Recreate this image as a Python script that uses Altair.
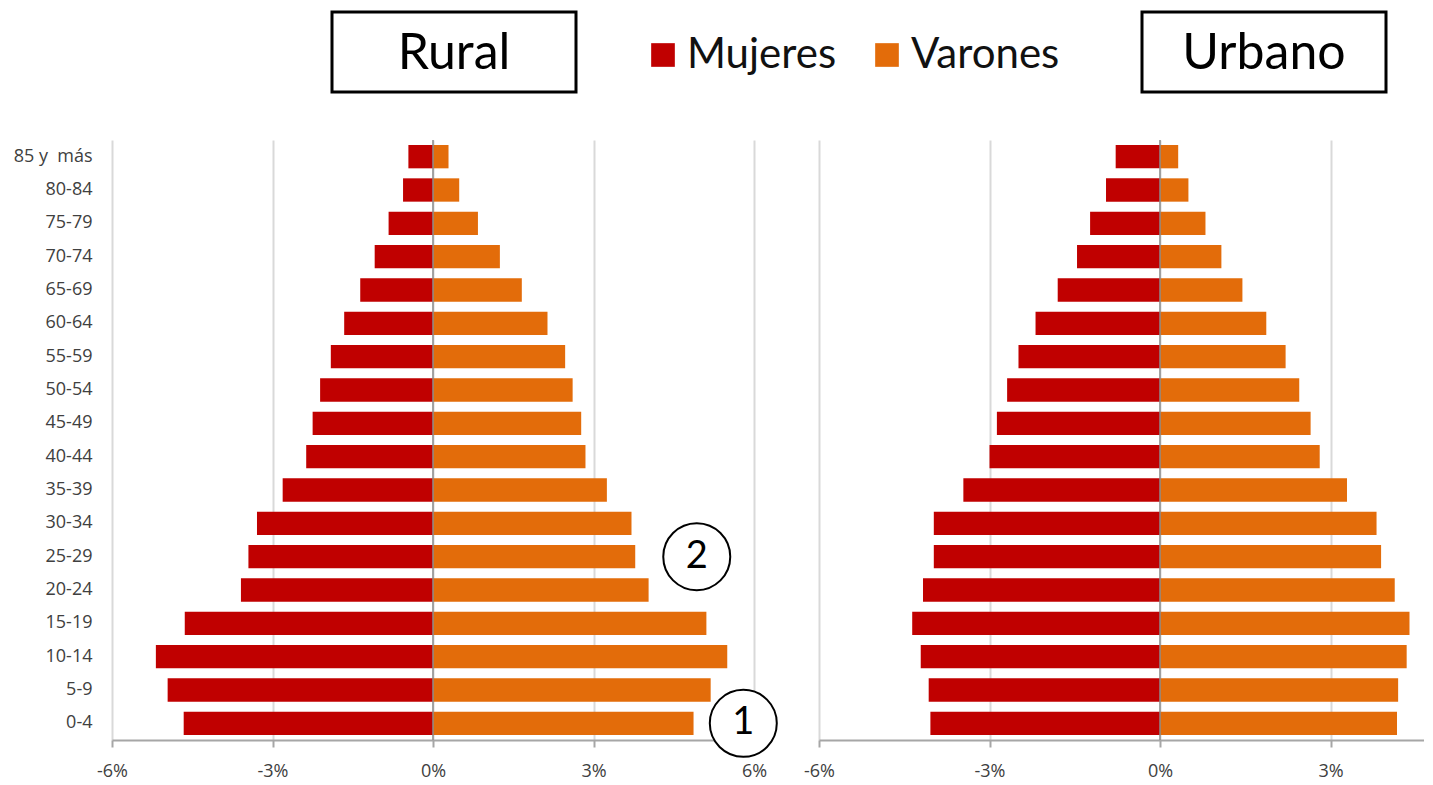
import altair as alt
import pandas as pd

# ---- data (percent of population) ----
ages = ["0-4", "5-9", "10-14", "15-19", "20-24", "25-29", "30-34", "35-39",
        "40-44", "45-49", "50-54", "55-59", "60-64", "65-69", "70-74",
        "75-79", "80-84", "85 y\u00a0 más"]
rural_mujeres = [4.66, 4.96, 5.18, 4.64, 3.59, 3.45, 3.29, 2.81, 2.37, 2.25,
                 2.11, 1.91, 1.66, 1.36, 1.09, 0.83, 0.56, 0.46]
rural_varones = [4.87, 5.19, 5.50, 5.11, 4.03, 3.78, 3.71, 3.25, 2.85, 2.77,
                 2.61, 2.47, 2.14, 1.66, 1.25, 0.84, 0.49, 0.29]
urbano_mujeres = [4.04, 4.07, 4.21, 4.36, 4.17, 3.98, 3.98, 3.46, 3.00, 2.87,
                  2.69, 2.49, 2.19, 1.80, 1.46, 1.23, 0.95, 0.78]
urbano_varones = [4.17, 4.19, 4.34, 4.39, 4.13, 3.89, 3.81, 3.29, 2.81, 2.65,
                  2.45, 2.21, 1.87, 1.45, 1.08, 0.80, 0.50, 0.32]
sexos = ["Mujeres", "Varones"]
colores = ["#C00000", "#E36C0A"]
x_ticks_rural = [-6, -3, 0, 3, 6]
x_ticks_urbano = [-6, -3, 0, 3]
annot_labels = ["1", "2"]
annot_edad = ["0-4", "25-29"]
annot_x = [5.8, 4.93]


def make_df(muj, var):
    rows = []
    for a, m, v in zip(ages, muj, var):
        rows.append({"edad": a, "sexo": "Mujeres", "valor": -m})
        rows.append({"edad": a, "sexo": "Varones", "valor": v})
    return pd.DataFrame(rows)


df_rural = make_df(rural_mujeres, rural_varones)
df_urbano = make_df(urbano_mujeres, urbano_varones)
df_annot = pd.DataFrame({"edad": annot_edad, "x": annot_x, "label": annot_labels})

y_order = list(reversed(ages))
y_scale = alt.Scale(domain=y_order, paddingInner=0.3, paddingOuter=0.15)

color_enc = alt.Color(
    "sexo:N",
    scale=alt.Scale(domain=sexos, range=colores),
    legend=alt.Legend(
        orient="none", legendX=530, legendY=-106, direction="horizontal",
        title=None, symbolType="square", symbolSize=560, symbolStrokeWidth=0,
        labelFontSize=42, labelFont="Lato", labelColor="#111111",
        labelOffset=3, columnPadding=29, symbolOpacity=1,
    ),
)


def x_axis(vals):
    return alt.Axis(
        values=vals, labelExpr="datum.value + '%'", grid=True,
        gridColor="#d9d9d9", gridWidth=2, domainColor="#a6a6a6",
        domainWidth=2, tickColor="#a6a6a6", tickWidth=2, tickSize=7,
        labelFontSize=18, labelColor="#404040", labelFont="Open Sans",
        labelPadding=15, title=None, labelFlush=False,
    )


def panel(df, domain, ticks, width, show_y, box_x, box_text, annot=False):
    xs = alt.Scale(domain=domain, nice=False, zero=False)
    if show_y:
        yax = alt.Axis(title=None, ticks=False, domain=False, grid=False,
                       labelFontSize=18, labelPadding=20, labelColor="#404040",
                       labelFont="Open Sans")
    else:
        yax = None
    bars = alt.Chart(df).mark_bar().encode(
        x=alt.X("valor:Q", scale=xs, axis=x_axis(ticks)),
        y=alt.Y("edad:N", scale=y_scale, sort=y_order, axis=yax),
        color=color_enc,
    )
    zero = alt.Chart(pd.DataFrame({"valor": [0]})).mark_rule(
        color="#8c8c8c", strokeWidth=1.5
    ).encode(x="valor:Q")
    box = alt.Chart(pd.DataFrame({"t": [box_text]})).mark_rect(
        fill="white", stroke="black", strokeWidth=3
    ).encode(
        x=alt.value(box_x), x2=alt.value(box_x + 244),
        y=alt.value(-128), y2=alt.value(-48),
    )
    box_label = alt.Chart(pd.DataFrame({"t": [box_text]})).mark_text(
        font="Lato", fontSize=50, color="black", baseline="middle"
    ).encode(text="t:N", x=alt.value(box_x + 122), y=alt.value(-86))
    layers = [bars, zero, box, box_label]
    if annot:
        circles = alt.Chart(df_annot).mark_point(
            shape="circle", size=4489, filled=True, fill="white",
            stroke="black", strokeWidth=2, opacity=1
        ).encode(x="x:Q", y=alt.Y("edad:N", sort=y_order))
        nums = alt.Chart(df_annot).mark_text(
            font="Lato", fontSize=38, color="black", baseline="middle"
        ).encode(x="x:Q", y=alt.Y("edad:N", sort=y_order), text="label:N")
        layers += [circles, nums]
    return alt.layer(*layers).properties(width=width, height=600)


left = panel(df_rural, [-6, 6], x_ticks_rural, 642, True, 220, "Rural", annot=True)
right = panel(df_urbano, [-6, 4.645], x_ticks_urbano, 605, False, 323, "Urbano")

chart = alt.hconcat(left, right, spacing=65, bounds="flush").properties(
    padding={"left": 5, "top": 2, "right": 0, "bottom": 0}
).configure_view(stroke=None)

chart.save("out.html", embed_options={"renderer": "svg", "actions": False})
